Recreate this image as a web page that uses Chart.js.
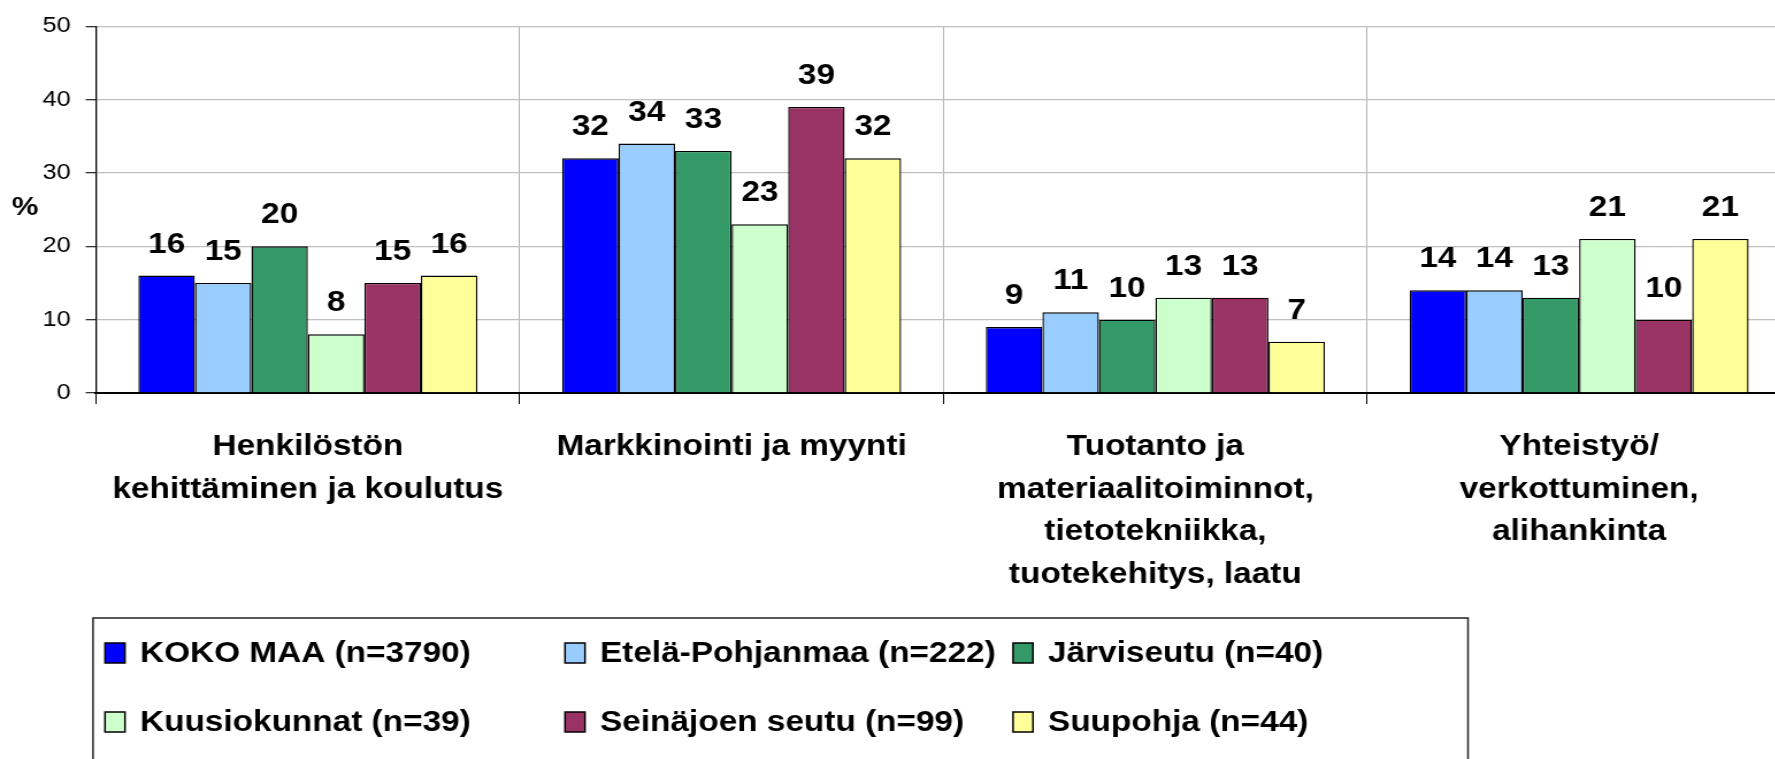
<!DOCTYPE html>
<html>
<head>
<meta charset="utf-8">
<script src="https://cdn.jsdelivr.net/npm/chart.js@4/dist/chart.umd.min.js"></script>
<style>
  html, body { margin: 0; padding: 0; background: #fff; overflow: hidden; }
  #wrap { width: 1560px; height: 759px; transform: scaleX(1.15); transform-origin: 0 0; }
</style>
</head>
<body>
<div id="wrap"><canvas id="c" width="1560" height="759"></canvas></div>
<script>
// ---- data ----
const categories = [
  ["Henkilöstön", "kehittäminen ja koulutus"],
  ["Markkinointi ja myynti"],
  ["Tuotanto ja", "materiaalitoiminnot,", "tietotekniikka,", "tuotekehitys, laatu"],
  ["Yhteistyö/", "verkottuminen,", "alihankinta"]
];
const seriesNames = [
  "KOKO MAA (n=3790)",
  "Etelä-Pohjanmaa (n=222)",
  "Järviseutu (n=40)",
  "Kuusiokunnat (n=39)",
  "Seinäjoen seutu (n=99)",
  "Suupohja (n=44)"
];
const kokoMaa       = [16, 32, 9, 14];
const etelaPohjanmaa = [15, 34, 11, 14];
const jarviseutu    = [20, 33, 10, 13];
const kuusiokunnat  = [8, 23, 13, 21];
const seinajoki     = [15, 39, 13, 10];
const suupohja      = [16, 32, 7, 21];
const yTicks = [0, 10, 20, 30, 40, 50];
const yAxisLabel = "%";

const seriesValues = [kokoMaa, etelaPohjanmaa, jarviseutu, kuusiokunnat, seinajoki, suupohja];
const colors = ["#0000FF", "#99CCFF", "#339966", "#CCFFCC", "#993366", "#FFFF99"];

const FONT = '"Liberation Sans", Arial, sans-serif';
const SX = 1.15; // horizontal stretch of the wrapper

const datasets = seriesNames.map((name, i) => ({
  label: name,
  data: seriesValues[i],
  backgroundColor: colors[i],
  borderColor: "#000",
  borderWidth: 1.4,
  borderSkipped: "bottom",
  categoryPercentage: 0.8,
  barPercentage: 1.0
}));

const valueLabels = {
  id: "valueLabels",
  afterDatasetsDraw(chart) {
    const ctx = chart.ctx;
    ctx.save();
    ctx.font = "bold 29px " + FONT;
    ctx.fillStyle = "#000";
    ctx.textAlign = "center";
    ctx.textBaseline = "alphabetic";
    chart.data.datasets.forEach((ds, di) => {
      const meta = chart.getDatasetMeta(di);
      meta.data.forEach((bar, j) => {
        ctx.fillText(String(ds.data[j]), bar.x, bar.y - 23);
      });
    });
    ctx.restore();
  }
};

const extras = {
  id: "extras",
  afterDraw(chart) {
    const ctx = chart.ctx;
    ctx.save();
    // y-axis unit label
    ctx.font = "bold 26px " + FONT;
    ctx.fillStyle = "#000";
    ctx.textAlign = "center";
    ctx.textBaseline = "middle";
    ctx.fillText(yAxisLabel, 25 / SX, 208);

    // legend box
    ctx.strokeStyle = "#222";
    ctx.lineWidth = 1.5;
    ctx.strokeRect(93 / SX, 618, (1468 - 93) / SX, 200);

    const colX = [105, 565, 1013];
    const rowY = [653, 722];
    ctx.font = "bold 29px " + FONT;
    ctx.textAlign = "left";
    ctx.textBaseline = "middle";
    chart.data.datasets.forEach((ds, i) => {
      const col = i % 3, row = Math.floor(i / 3);
      const mx = colX[col] / SX, my = rowY[row];
      ctx.fillStyle = ds.backgroundColor;
      ctx.fillRect(mx, my - 10, 20 / SX, 20);
      ctx.lineWidth = 1.5;
      ctx.strokeStyle = "#000";
      ctx.strokeRect(mx, my - 10, 20 / SX, 20);
      ctx.fillStyle = "#000";
      ctx.fillText(ds.label, (colX[col] + 35) / SX, my + 1);
    });
    ctx.restore();
  }
};

new Chart(document.getElementById("c"), {
  type: "bar",
  data: { labels: categories, datasets },
  plugins: [valueLabels, extras],
  options: {
    responsive: false,
    animation: false,
    devicePixelRatio: 1,
    layout: { padding: { left: 0, right: 1560 - 1791 / SX, top: 24, bottom: 0 } },
    plugins: { legend: { display: false }, tooltip: { enabled: false } },
    scales: {
      x: {
        offset: true,
        grid: { offset: true, color: "#b0b0b0", lineWidth: 1, tickColor: "#000", tickLength: 11, drawTicks: true },
        border: { display: true, color: "#000", width: 2 },
        ticks: {
          color: "#000",
          font: { family: FONT, size: 29, weight: "bold", lineHeight: 1.466 },
          padding: 22,
          maxRotation: 0,
          autoSkip: false
        },
        afterFit(scale) { scale.height = 759 - 393; }
      },
      y: {
        min: 0,
        max: 50,
        afterBuildTicks(scale) { scale.ticks = yTicks.map(v => ({ value: v })); },
        grid: { color: "#c0c0c0", lineWidth: 1.3, tickColor: "#333", tickLength: 9 },
        border: { display: true, color: "#000", width: 1.3 },
        ticks: {
          color: "#000",
          font: { family: FONT, size: 22 },
          padding: 13
        },
        afterFit(scale) { scale.width = 96 / SX; }
      }
    }
  }
});
</script>
</body>
</html>
